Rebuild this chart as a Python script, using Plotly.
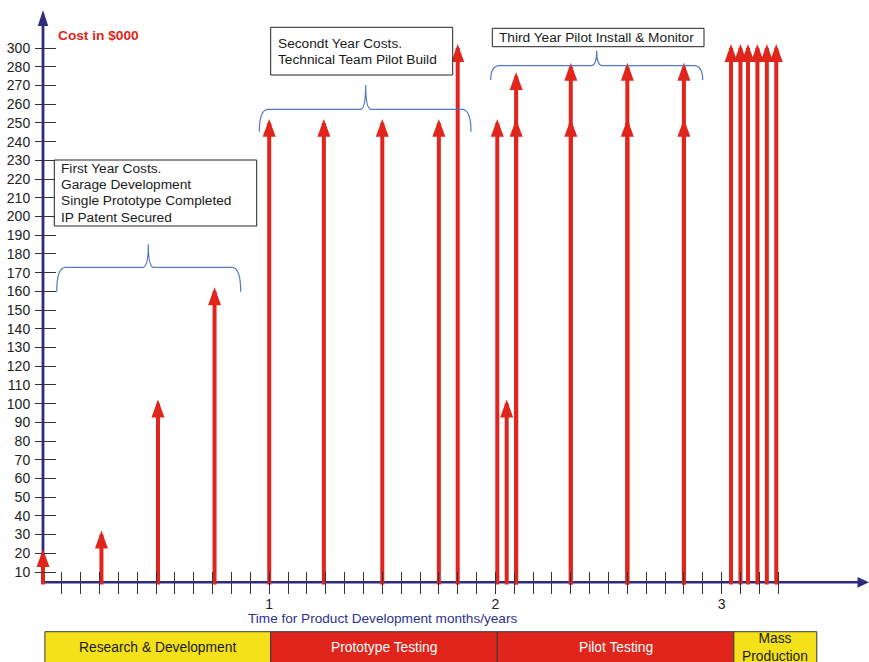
import numpy as np
import plotly.graph_objects as go

W, H = 869, 662

# ---- data -------------------------------------------------------------
# Cost scale tick labels (the scale jumps from 280 straight to 300)
cost_ticks = [10, 20, 30, 40, 50, 60, 70, 80, 90, 100, 110, 120, 130, 140, 150,
              160, 170, 180, 190, 200, 210, 220, 230, 240, 250, 260, 270, 280, 300]

# Spending events: month on the time axis and cost in $000
arrow_month = [0, 3.1, 6.1, 9.1,
               12, 14.9, 18, 21, 22,
               24.1, 24.6, 25.1, 25.1, 28, 28, 31, 31, 34, 34,
               36.5, 37, 37.4, 37.9, 38.4, 38.9]
arrow_cost = [20, 30, 100, 160,
              250, 250, 250, 250, 300,
              250, 100, 250, 275, 250, 280, 250, 280, 250, 280,
              300, 300, 300, 300, 300, 300]

# Month ticks and year labels
month_ticks = list(range(1, 40))
year_labels = {12: "1", 24: "2", 36: "3"}

# Development phases along the time line (months)
phase_names = ["Research & Development", "Prototype Testing", "Pilot Testing", "Mass<br>Production"]
phase_start = [0.1, 12.08, 24.1, 36.65]
phase_end = [12.08, 24.1, 36.65, 41.05]

# ---- styling ----------------------------------------------------------
RED = "#e0261c"
YELLOW = "#f4e119"
NAVY = "#2d2c80"
BRACE = "#5578c6"
FONT = "Liberation Sans, Arial, sans-serif"

phase_fill = [YELLOW, RED, RED, YELLOW]
phase_text = ["#1a1a1a", "white", "white", "#1a1a1a"]

# axis geometry (pixels)
X0_PX, PX_PER_MONTH = 43.0, 18.85
Y_ORIGIN_PX, PX_PER_STEP = 590.71, 18.71
BASE_PX = 582.3

tick_index = list(range(1, len(cost_ticks) + 1))


def ypos(cost):
    """Map a cost onto the tick-step scale of the cost axis."""
    return float(np.interp(cost, cost_ticks, tick_index))


def px_x(p):
    return p / W


def px_y(p):
    return 1 - p / H


x_range = [-X0_PX / PX_PER_MONTH, (W - X0_PX) / PX_PER_MONTH]
y_range = [(Y_ORIGIN_PX - H) / PX_PER_STEP, Y_ORIGIN_PX / PX_PER_STEP]
y_base = (Y_ORIGIN_PX - BASE_PX) / PX_PER_STEP
y_shaft_start = (Y_ORIGIN_PX - 584.5) / PX_PER_STEP
y_axis_top = (Y_ORIGIN_PX - 10) / PX_PER_STEP
x_axis_end = x_range[1]

fig = go.Figure()

# arrow shafts
sx, sy = [], []
for m, c in zip(arrow_month, arrow_cost):
    sx += [m, m, None]
    sy += [y_shaft_start, ypos(c), None]
fig.add_trace(go.Scatter(x=sx, y=sy, mode="lines", line=dict(color=RED, width=4),
                         hoverinfo="skip", cliponaxis=False))

# companion trace for the overlaid tick axes
fig.add_trace(go.Scatter(x=[None], y=[None], xaxis="x2", yaxis="y2", hoverinfo="skip"))

shapes = []

# axis lines with arrow heads
shapes.append(dict(type="line", xref="x", yref="y", x0=0, x1=0, y0=y_base - 0.06,
                   y1=y_axis_top - 0.5, line=dict(color=NAVY, width=2.8), layer="below"))
shapes.append(dict(type="line", xref="x", yref="y", x0=-0.05, x1=x_axis_end - 0.4,
                   y0=y_base, y1=y_base, line=dict(color=NAVY, width=2.6), layer="below"))
shapes.append(dict(type="path", xref="x", yref="y", xsizemode="pixel", ysizemode="pixel",
                   xanchor=0, yanchor=y_axis_top, path="M0,0 L-5.2,-16 L5.2,-16 Z",
                   fillcolor=NAVY, line=dict(width=0)))
shapes.append(dict(type="path", xref="x", yref="y", xsizemode="pixel", ysizemode="pixel",
                   xanchor=x_axis_end, yanchor=y_base, path="M0,0 L-11.5,5.4 L-11.5,-5.4 Z",
                   fillcolor=NAVY, line=dict(width=0)))

# arrow heads for the cost events
for m, c in zip(arrow_month, arrow_cost):
    shapes.append(dict(type="path", xref="x", yref="y", xsizemode="pixel", ysizemode="pixel",
                       xanchor=m, yanchor=ypos(c), path="M0,4 L-6.5,-13.8 L6.5,-13.8 Z",
                       fillcolor=RED, line=dict(width=0)))

# phase bands
annotations = []
for name, a, b, fc, tc in zip(phase_names, phase_start, phase_end, phase_fill, phase_text):
    shapes.append(dict(type="rect", xref="x", yref="paper", x0=a, x1=b,
                       y0=px_y(631.7), y1=px_y(690), fillcolor=fc,
                       line=dict(color="#3a3a3a", width=1)))
    annotations.append(dict(x=(a + b) / 2, y=px_y(647.5), xref="x", yref="paper",
                            text=name, showarrow=False, xanchor="center", yanchor="middle",
                            font=dict(family=FONT, size=13.8, color=tc)))


# braces grouping each year's spending
def brace(xl, xr, yb, ym, xt, yt, r=9):
    pts = [("M", [(xl, yb)]),
           ("Q", [(xl, ym), (xl + r, ym)]),
           ("L", [(xt - 5, ym)]),
           ("Q", [(xt, ym - 1), (xt, yt)]),
           ("Q", [(xt, ym - 1), (xt + 5, ym)]),
           ("L", [(xr - r, ym)]),
           ("Q", [(xr, ym), (xr, yb)])]
    out = []
    for cmd, ps in pts:
        out.append(cmd + " ".join(f"{px_x(x):.5f},{px_y(y):.5f}" for x, y in ps))
    return " ".join(out)


for geo in [(56.7, 240.7, 291.7, 267.3, 148.3, 244.3),
            (259.3, 471.0, 131.7, 109.3, 365.7, 85.0),
            (490.7, 702.7, 80.0, 65.7, 596.7, 50.7)]:
    shapes.append(dict(type="path", xref="paper", yref="paper", path=brace(*geo),
                       line=dict(color=BRACE, width=1.2)))

# text boxes
boxes = [
    ((54.3, 256.7, 160.0, 226.0), 59.3,
     [("First Year Costs.", 168.3), ("Garage Development", 184.6),
      ("Single Prototype Completed", 201.0), ("IP Patent Secured", 217.4)]),
    ((270.7, 452.7, 27.3, 75.0), 276.0,
     [("Secondt Year Costs.", 43.3), ("Technical Team Pilot Build", 59.3)]),
    ((492.3, 704.0, 28.3, 46.7), 497.3,
     [("Third Year Pilot Install & Monitor", 37.6)]),
]
for (bx0, bx1, by0, by1), tx, lines in boxes:
    shapes.append(dict(type="rect", xref="paper", yref="paper",
                       x0=px_x(bx0), x1=px_x(bx1), y0=px_y(by0), y1=px_y(by1),
                       fillcolor="white", line=dict(color="#222222", width=1)))
    for txt, ty in lines:
        annotations.append(dict(x=px_x(tx), y=px_y(ty), xref="paper", yref="paper",
                                text=txt, showarrow=False, xanchor="left", yanchor="middle",
                                font=dict(family=FONT, size=13.7, color="#1a1a1a")))

annotations.append(dict(x=px_x(56), y=px_y(35.5), xref="paper", yref="paper",
                        text="<b>Cost in $000</b>", showarrow=False, xanchor="left",
                        yanchor="middle", font=dict(family=FONT, size=13.7, color=RED)))
annotations.append(dict(x=(382.5 - X0_PX) / PX_PER_MONTH, y=px_y(618.5), xref="x", yref="paper",
                        text="Time for Product Development months/years", showarrow=False,
                        xanchor="center", yanchor="middle",
                        font=dict(family=FONT, size=13.6, color="#2e3192")))

tick_common = dict(showgrid=False, zeroline=False, showline=False, tickcolor="#333333",
                   tickwidth=1.4, tickmode="array")

fig.update_layout(
    width=W, height=H, margin=dict(l=0, r=0, t=0, b=0),
    paper_bgcolor="white", plot_bgcolor="white", showlegend=False,
    xaxis=dict(range=x_range, anchor="free", position=px_y(BASE_PX), ticks="outside",
               ticklen=11, tickvals=month_ticks,
               ticktext=[year_labels.get(m, "") for m in month_ticks],
               tickfont=dict(family=FONT, size=14, color="#222222"),
               ticklabelstandoff=-2, **tick_common),
    xaxis2=dict(range=x_range, overlaying="x", anchor="free", position=px_y(BASE_PX),
                ticks="inside", ticklen=10, tickvals=month_ticks, showticklabels=False,
                **tick_common),
    yaxis=dict(range=y_range, anchor="free", position=px_x(X0_PX), ticks="outside",
               ticklen=8, tickvals=tick_index, ticktext=[str(t) for t in cost_ticks],
               tickfont=dict(family=FONT, size=14, color="#222222"),
               ticklabelstandoff=2, **tick_common),
    yaxis2=dict(range=y_range, overlaying="y", anchor="free", position=px_x(X0_PX),
                ticks="inside", ticklen=12, tickvals=tick_index, showticklabels=False,
                **tick_common),
    shapes=shapes, annotations=annotations,
)

fig.write_html("out.html")
